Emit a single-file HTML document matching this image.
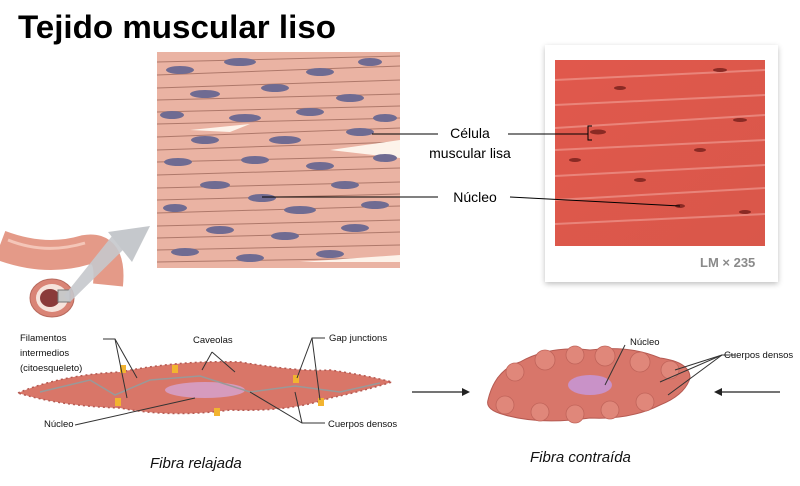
<!DOCTYPE html>
<html><head><meta charset="utf-8"><style>
html,body{margin:0;padding:0;background:#fff;}
body{width:800px;height:486px;overflow:hidden;position:relative;font-family:"Liberation Sans",sans-serif;}
</style></head><body>
<svg width="800" height="486" viewBox="0 0 800 486" xmlns="http://www.w3.org/2000/svg" style="position:absolute;left:0;top:0">
<defs>
<linearGradient id="red" x1="0" y1="0" x2="1" y2="1">
<stop offset="0" stop-color="#e0584c"/><stop offset="1" stop-color="#d9574a"/></linearGradient>
<filter id="sh" x="-10%" y="-10%" width="120%" height="120%"><feGaussianBlur stdDeviation="3"/></filter>
</defs>
<text x="18" y="38" font-family="Liberation Sans, sans-serif" font-weight="bold" font-size="32" textLength="318" lengthAdjust="spacingAndGlyphs" fill="#000">Tejido muscular liso</text>

<!-- left tissue illustration -->
<rect x="157" y="52" width="243" height="216" fill="#eab3a3"/>
<g stroke="#a06a5c" stroke-width="1" fill="none" opacity="0.8">
<path d="M157 62 L400 56"/><path d="M157 75 L400 66"/><path d="M157 88 L400 80"/><path d="M157 100 L400 94"/>
<path d="M157 112 L400 106"/><path d="M157 124 L400 118"/><path d="M157 137 L400 128"/><path d="M157 150 L400 142"/>
<path d="M157 162 L400 156"/><path d="M157 175 L400 168"/><path d="M157 188 L400 182"/><path d="M157 200 L400 194"/>
<path d="M157 213 L400 206"/><path d="M157 226 L400 220"/><path d="M157 238 L400 232"/><path d="M157 250 L400 245"/><path d="M157 262 L400 258"/>
</g>
<g fill="#fdf3ea"><path d="M330 150 L400 140 L400 158 Z"/><path d="M190 130 L250 124 L230 132Z"/><path d="M300 262 L400 255 L400 262Z"/></g>
<g fill="#6f6b92">
<ellipse cx="180" cy="70" rx="14" ry="4"/><ellipse cx="240" cy="62" rx="16" ry="4"/><ellipse cx="320" cy="72" rx="14" ry="4"/><ellipse cx="370" cy="62" rx="12" ry="4"/>
<ellipse cx="205" cy="94" rx="15" ry="4"/><ellipse cx="275" cy="88" rx="14" ry="4"/><ellipse cx="350" cy="98" rx="14" ry="4"/>
<ellipse cx="172" cy="115" rx="12" ry="4"/><ellipse cx="245" cy="118" rx="16" ry="4"/><ellipse cx="310" cy="112" rx="14" ry="4"/><ellipse cx="385" cy="118" rx="12" ry="4"/>
<ellipse cx="205" cy="140" rx="14" ry="4"/><ellipse cx="285" cy="140" rx="16" ry="4"/><ellipse cx="360" cy="132" rx="14" ry="4"/>
<ellipse cx="178" cy="162" rx="14" ry="4"/><ellipse cx="255" cy="160" rx="14" ry="4"/><ellipse cx="320" cy="166" rx="14" ry="4"/><ellipse cx="385" cy="158" rx="12" ry="4"/>
<ellipse cx="215" cy="185" rx="15" ry="4"/><ellipse cx="262" cy="198" rx="14" ry="4"/><ellipse cx="345" cy="185" rx="14" ry="4"/>
<ellipse cx="175" cy="208" rx="12" ry="4"/><ellipse cx="300" cy="210" rx="16" ry="4"/><ellipse cx="375" cy="205" rx="14" ry="4"/>
<ellipse cx="220" cy="230" rx="14" ry="4"/><ellipse cx="285" cy="236" rx="14" ry="4"/><ellipse cx="355" cy="228" rx="14" ry="4"/>
<ellipse cx="185" cy="252" rx="14" ry="4"/><ellipse cx="250" cy="258" rx="14" ry="4"/><ellipse cx="330" cy="254" rx="14" ry="4"/>
</g>
<!-- photo -->
<rect x="545" y="47" width="233" height="237" fill="#000" opacity="0.25" filter="url(#sh)"/>
<rect x="545" y="45" width="233" height="237" fill="#fff"/>
<rect x="555" y="60" width="210" height="186" fill="url(#red)"/>
<g stroke="#f2a39a" stroke-width="2" opacity="0.6" fill="none">
<path d="M555 80 L765 70"/><path d="M555 105 L765 95"/><path d="M555 128 L765 115"/><path d="M555 150 L765 140"/><path d="M555 176 L765 165"/><path d="M555 200 L765 188"/><path d="M555 224 L765 214"/>
</g>
<g fill="#8a2a24"><ellipse cx="598" cy="132" rx="8" ry="2.5"/><ellipse cx="680" cy="206" rx="5" ry="2"/><ellipse cx="720" cy="70" rx="7" ry="2"/><ellipse cx="740" cy="120" rx="7" ry="2"/><ellipse cx="575" cy="160" rx="6" ry="2"/><ellipse cx="700" cy="150" rx="6" ry="2"/><ellipse cx="620" cy="88" rx="6" ry="2"/><ellipse cx="745" cy="212" rx="6" ry="2"/><ellipse cx="640" cy="180" rx="6" ry="2"/></g>
<text x="700" y="267" font-family="Liberation Sans, sans-serif" font-size="13" font-weight="bold" fill="#8a8a8a">LM × 235</text>
<!-- labels -->
<g stroke="#000" stroke-width="1" fill="none">
<path d="M372 134 L438 134"/><path d="M262 197 L438 197"/>
<path d="M508 134 L588 134"/><path d="M592 126 L588 126 L588 140 L592 140"/><path d="M510 197 L680 206"/>
</g>
<g font-family="Liberation Sans, sans-serif" font-size="14" fill="#000" text-anchor="middle">
<text x="470" y="138">Célula</text><text x="470" y="158">muscular lisa</text><text x="475" y="202">Núcleo</text>
</g>

<!-- intestine + arrow -->
<path d="M0 245 Q45 262 85 250 Q112 245 108 285" stroke="#e49a88" stroke-width="30" fill="none"/>
<path d="M8 240 Q45 255 85 243" stroke="#f4c6b8" stroke-width="3" fill="none"/>
<ellipse cx="52" cy="298" rx="22" ry="19" fill="#d98476" stroke="#b86a5e"/>
<ellipse cx="52" cy="298" rx="16" ry="14" fill="#f6e3dc"/>
<ellipse cx="50" cy="298" rx="10" ry="9" fill="#8a3a3a"/>
<rect x="58" y="290" width="12" height="12" fill="#c8c8c8" stroke="#777"/>
<path d="M64 296 L70 302 L125 248 L118 242 L112 236 Z" fill="#c5c8cc" opacity="0.9"/>
<polygon points="108,232 150,226 132,262" fill="#c5c8cc"/>

<!-- relaxed fiber -->
<path d="M18 393 Q60 375 120 372 Q180 360 240 362 Q300 372 330 370 Q365 375 392 382 Q360 392 330 398 Q290 412 230 410 Q170 418 120 408 Q60 406 18 393Z" fill="#d97668" stroke="#b55a52" stroke-width="1.5" stroke-dasharray="2 3"/>
<ellipse cx="205" cy="390" rx="40" ry="8" fill="#d69bbd"/>
<g stroke="#999" stroke-width="1.5" fill="none"><path d="M40 392 L90 380 L115 395 L150 380 L200 376 L250 392 L295 386 L340 392 L380 383"/></g>
<g fill="#f2b430"><rect x="120" y="365" width="6" height="8"/><rect x="172" y="365" width="6" height="8"/><rect x="293" y="375" width="6" height="8"/><rect x="318" y="398" width="6" height="8"/><rect x="115" y="398" width="6" height="8"/><rect x="214" y="408" width="6" height="8"/></g>
<g stroke="#333" stroke-width="1" fill="none">
<path d="M103 339 L115 339 L137 378"/><path d="M115 339 L127 398"/>
<path d="M212 352 L202 370"/><path d="M212 352 L235 372"/>
<path d="M325 338 L312 338 L297 378"/><path d="M312 338 L320 400"/>
<path d="M75 425 L195 398"/><path d="M325 423 L302 423 L250 392"/><path d="M302 423 L295 392"/>
</g>
<g font-family="Liberation Sans, sans-serif" font-size="9.5" fill="#111">
<text x="20" y="341">Filamentos</text><text x="20" y="356">intermedios</text><text x="20" y="371">(citoesqueleto)</text>
<text x="193" y="343">Caveolas</text><text x="329" y="341">Gap junctions</text>
<text x="44" y="427">Núcleo</text><text x="328" y="427">Cuerpos densos</text>
</g>

<!-- arrows -->
<g stroke="#222" stroke-width="1.3"><path d="M412 392 L466 392"/><path d="M718 392 L780 392"/></g>
<polygon points="470,392 462,388 462,396" fill="#222"/><polygon points="714,392 722,388 722,396" fill="#222"/>

<!-- contracted fiber -->
<path d="M488 400 Q495 370 520 362 Q550 345 590 350 Q630 345 660 358 Q690 362 690 378 Q685 395 660 405 Q630 420 590 418 Q540 425 505 415 Q485 410 488 400Z" fill="#d8766a" stroke="#b55a52" stroke-width="1"/>
<g fill="#e0877a" stroke="#c0645a" stroke-width="0.8"><circle cx="515" cy="372" r="9"/><circle cx="545" cy="360" r="10"/><circle cx="575" cy="355" r="9"/><circle cx="605" cy="356" r="10"/><circle cx="640" cy="362" r="10"/><circle cx="670" cy="370" r="9"/><circle cx="505" cy="405" r="9"/><circle cx="540" cy="412" r="9"/><circle cx="575" cy="414" r="9"/><circle cx="610" cy="410" r="9"/><circle cx="645" cy="402" r="9"/></g>
<ellipse cx="590" cy="385" rx="22" ry="10" fill="#c992c8"/>
<g stroke="#333" stroke-width="1" fill="none"><path d="M625 345 L605 385"/><path d="M735 355 L722 355 L660 382"/><path d="M722 355 L668 395"/><path d="M722 355 L675 370"/></g>
<g font-family="Liberation Sans, sans-serif" font-size="9.5" fill="#111"><text x="630" y="345">Núcleo</text><text x="724" y="358">Cuerpos densos</text></g>

<g font-family="Liberation Sans, sans-serif" font-style="italic" font-size="15" fill="#111">
<text x="150" y="468">Fibra relajada</text><text x="530" y="462">Fibra contraída</text></g>
</svg>
</body></html>
